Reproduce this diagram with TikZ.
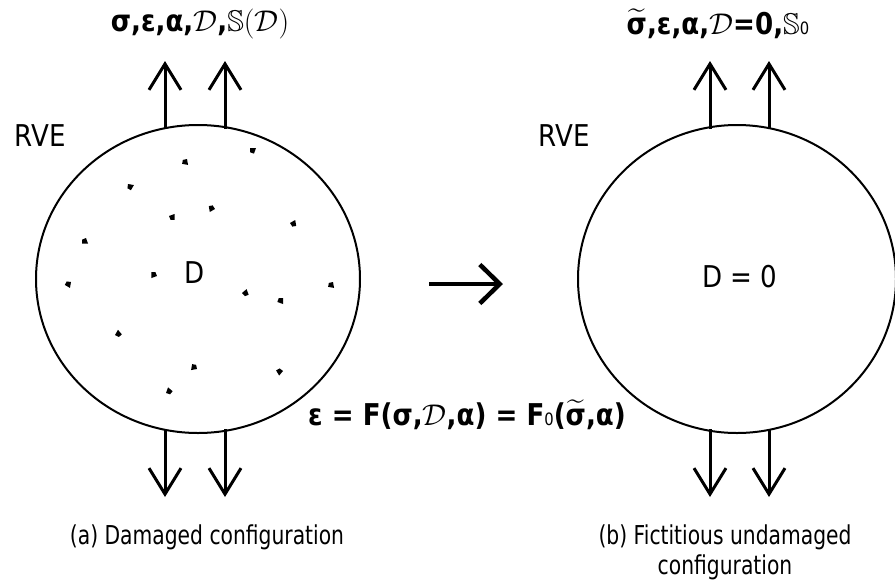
\RequirePackage{fix-cm}
\documentclass[tikz,border=0pt]{standalone}
\usepackage{amsmath,amssymb}
\usepackage{fontspec}
\setmainfont{DejaVu Sans}[FakeStretch=0.87]
\newfontfamily\capfont{DejaVu Sans}[FakeStretch=0.78]
\usetikzlibrary{arrows.meta}
\newcommand{\sigt}{$\widetilde{\hbox{σ}}$}
\newcommand{\lowo}{{\fontsize{17}{17}\selectfont\mdseries 0}}

\begin{document}
\begin{tikzpicture}[x=1pt,y=-1pt,
  lbl/.style={inner sep=0pt,font=\fontsize{30}{36}\selectfont},
  frm/.style={inner sep=0pt,font=\fontsize{30}{36}\selectfont\bfseries},
  captxt/.style={inner sep=0pt,align=center,font=\capfont\fontsize{26}{30}\selectfont},
  rve/.style={line width=2pt},
  load/.style={line width=3pt,-{Straight Barb[length=26pt,width=32pt,line width=3pt]}},
  maps/.style={line width=4.5pt,-{Straight Barb[length=20pt,width=39pt,line width=4.5pt]}}]
\useasboundingbox (0,0) rectangle (895,587);
\draw[rve] (198,279) ellipse [x radius=162,y radius=154];
\draw[rve] (737,279) ellipse [x radius=159,y radius=154];
\foreach \x [count=\i] in {165,225,710,769} {
  \coordinate (up\i) at (\x,61);
  \coordinate (dn\i) at (\x,497);
  \draw[load] (\x,129) -- (up\i);
  \draw[load] (\x,429) -- (dn\i);
}
\foreach \x/\y/\r in {250/148/0,187/159/80,128/184/10,169/216/-20,215/209/150,290/223/-30,
  86/238/70,157/276/160,71/282/100,242/293/-40,283/298/90,333/282/80,115/335/-60,
  197/369/170,283/371/130,166/393/-70}
  \fill (\x,\y) -- ++(\r:6) -- ++(\r+110:6) -- ++(\r+200:4) -- cycle;
\coordinate (mA) at (429,284);
\coordinate (mB) at (503,284);
\draw[maps] (mA) -- (mB);
\node[lbl] (rveL) at (40,136) {RVE};
\node[lbl] (rveR) at (564,136) {RVE};
\node[lbl] (dmgD) at (195,273) {D};
\node[lbl] (undD) at (740,277) {D = 0};
\node[frm] (topL) at (200,24) {σ,ε,α,$\mathcal{D}$,$\mathbb{S}(\mathcal{D})$};
\node[frm] (topR) at (718,24) {\sigt,ε,α,$\mathcal{D}$=0,$\mathbb{S}$\lowo};
\node[frm] (eqn) at (467,415) {ε = F(σ,$\mathcal{D}$,α) = F\lowo(\sigt,α)};
\node[captxt] (capL) at (207,537) {(a) Damaged configuration};
\node[captxt] (capR) at (725,552) {(b) Fictitious undamaged\\configuration};
\end{tikzpicture}
\end{document}
